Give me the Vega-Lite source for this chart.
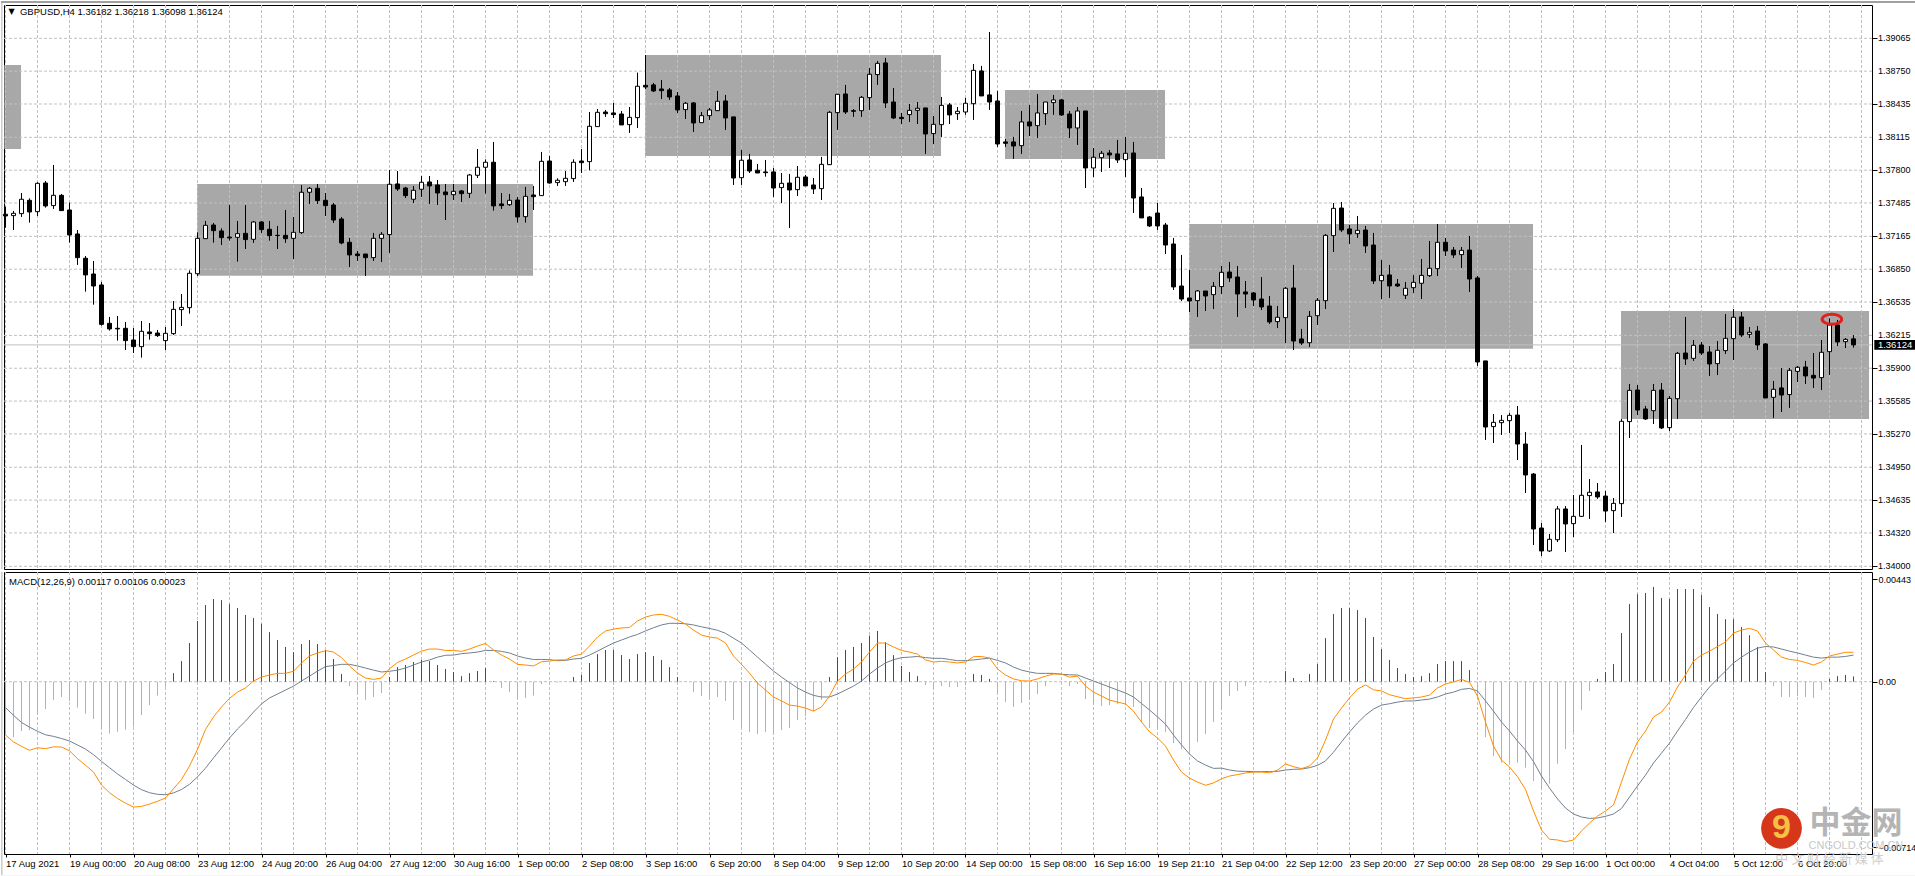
{"$schema":"https://vega.github.io/schema/vega-lite/v6.json","padding":0,"spacing":-2,"background":"white",
"data":{"values":[{"n":1}]},
"config":{"view":{"stroke":"#000","strokeWidth":1},"axis":{"labelFont":"Liberation Sans","labelFontSize":9.5,"labelColor":"#000","tickColor":"#000","domain":false,"grid":false}},
"datasets":{
"zones":[{"a":-0.15,"b":1.94,"top":1.38809,"bot":1.38003},{"a":23.94,"b":65.94,"top":1.37667,"bot":1.36788},{"a":79.94,"b":116.94,"top":1.38905,"bot":1.37936},{"a":124.94,"b":144.94,"top":1.38569,"bot":1.37907},{"a":147.94,"b":190.94,"top":1.37284,"bot":1.36087},{"a":201.94,"b":232.94,"top":1.36449,"bot":1.35413}],
"prices":[{"p":1.39065,"t":"1.39065"},{"p":1.3875,"t":"1.38750"},{"p":1.38435,"t":"1.38435"},{"p":1.38115,"t":"1.38115"},{"p":1.378,"t":"1.37800"},{"p":1.37485,"t":"1.37485"},{"p":1.37165,"t":"1.37165"},{"p":1.3685,"t":"1.36850"},{"p":1.36535,"t":"1.36535"},{"p":1.36215,"t":"1.36215"},{"p":1.359,"t":"1.35900"},{"p":1.35585,"t":"1.35585"},{"p":1.3527,"t":"1.35270"},{"p":1.3495,"t":"1.34950"},{"p":1.34635,"t":"1.34635"},{"p":1.3432,"t":"1.34320"},{"p":1.34,"t":"1.34000"}],
"bars":[
{"i":0,"o":1.37377,"h":1.3745,"l":1.37249,"c":1.37361,"d":-0.00232,"m":-0.0023,"s":-0.00112},
{"i":1,"o":1.37364,"h":1.37409,"l":1.37226,"c":1.37386,"d":-0.00239,"m":-0.0026,"s":-0.00145},
{"i":2,"o":1.37383,"h":1.37581,"l":1.37351,"c":1.37521,"d":-0.00213,"m":-0.00279,"s":-0.00176},
{"i":3,"o":1.37511,"h":1.3753,"l":1.37297,"c":1.37399,"d":-0.00209,"m":-0.00296,"s":-0.00196},
{"i":4,"o":1.37402,"h":1.37684,"l":1.37361,"c":1.37674,"d":-0.00141,"m":-0.00285,"s":-0.00214},
{"i":5,"o":1.37677,"h":1.37696,"l":1.37441,"c":1.37457,"d":-0.00118,"m":-0.00289,"s":-0.00229},
{"i":6,"o":1.3746,"h":1.3785,"l":1.37428,"c":1.37559,"d":-0.00079,"m":-0.00281,"s":-0.00236},
{"i":7,"o":1.37559,"h":1.37572,"l":1.37409,"c":1.37412,"d":-0.00066,"m":-0.00282,"s":-0.00245},
{"i":8,"o":1.37418,"h":1.37489,"l":1.37105,"c":1.37178,"d":-0.00083,"m":-0.00298,"s":-0.00256},
{"i":9,"o":1.37188,"h":1.37226,"l":1.36891,"c":1.36961,"d":-0.00112,"m":-0.00332,"s":-0.00273},
{"i":10,"o":1.36955,"h":1.36977,"l":1.36635,"c":1.36795,"d":-0.00138,"m":-0.0036,"s":-0.00291},
{"i":11,"o":1.36804,"h":1.36929,"l":1.3651,"c":1.36689,"d":-0.00161,"m":-0.0039,"s":-0.00315},
{"i":12,"o":1.36699,"h":1.36728,"l":1.36309,"c":1.36321,"d":-0.00204,"m":-0.00446,"s":-0.00344},
{"i":13,"o":1.36331,"h":1.36392,"l":1.36261,"c":1.36277,"d":-0.00224,"m":-0.00479,"s":-0.00371},
{"i":14,"o":1.36283,"h":1.36401,"l":1.36165,"c":1.36277,"d":-0.00216,"m":-0.00504,"s":-0.00398},
{"i":15,"o":1.36283,"h":1.36344,"l":1.36075,"c":1.36165,"d":-0.00207,"m":-0.00524,"s":-0.00422},
{"i":16,"o":1.36171,"h":1.36286,"l":1.36046,"c":1.36107,"d":-0.00194,"m":-0.00541,"s":-0.00446},
{"i":17,"o":1.36107,"h":1.36353,"l":1.36002,"c":1.36254,"d":-0.00144,"m":-0.00538,"s":-0.00466},
{"i":18,"o":1.36248,"h":1.36334,"l":1.36174,"c":1.36232,"d":-0.00101,"m":-0.00528,"s":-0.00479},
{"i":19,"o":1.36238,"h":1.36267,"l":1.362,"c":1.36213,"d":-0.0006,"m":-0.00516,"s":-0.00486},
{"i":20,"o":1.36165,"h":1.36296,"l":1.36075,"c":1.36235,"d":-0.00022,"m":-0.00502,"s":-0.00488},
{"i":21,"o":1.36232,"h":1.36545,"l":1.36219,"c":1.36465,"d":0.00037,"m":-0.00462,"s":-0.0048},
{"i":22,"o":1.36462,"h":1.36612,"l":1.36305,"c":1.36484,"d":0.00089,"m":-0.00422,"s":-0.00465},
{"i":23,"o":1.36481,"h":1.36839,"l":1.36424,"c":1.36811,"d":0.00167,"m":-0.00364,"s":-0.00443},
{"i":24,"o":1.36807,"h":1.37204,"l":1.36785,"c":1.37146,"d":0.00262,"m":-0.00292,"s":-0.00411},
{"i":25,"o":1.37143,"h":1.37313,"l":1.37143,"c":1.37271,"d":0.00331,"m":-0.00206,"s":-0.00373},
{"i":26,"o":1.37274,"h":1.37294,"l":1.37105,"c":1.3722,"d":0.00357,"m":-0.00152,"s":-0.00329},
{"i":27,"o":1.37217,"h":1.37242,"l":1.37082,"c":1.37153,"d":0.00352,"m":-0.00109,"s":-0.00286},
{"i":28,"o":1.37159,"h":1.37466,"l":1.37124,"c":1.3715,"d":0.00335,"m":-0.00072,"s":-0.00243},
{"i":29,"o":1.37156,"h":1.37313,"l":1.36923,"c":1.37191,"d":0.00318,"m":-0.00045,"s":-0.00204},
{"i":30,"o":1.37194,"h":1.37466,"l":1.37044,"c":1.37134,"d":0.00288,"m":-0.00027,"s":-0.0017},
{"i":31,"o":1.37137,"h":1.37313,"l":1.37102,"c":1.37303,"d":0.00275,"m":0.00003,"s":-0.00131},
{"i":32,"o":1.37303,"h":1.37313,"l":1.37198,"c":1.3723,"d":0.0025,"m":0.0002,"s":-0.00096},
{"i":33,"o":1.37233,"h":1.37313,"l":1.37124,"c":1.37172,"d":0.00214,"m":0.00029,"s":-0.0007},
{"i":34,"o":1.37175,"h":1.37265,"l":1.37044,"c":1.37172,"d":0.0018,"m":0.00036,"s":-0.00053},
{"i":35,"o":1.37175,"h":1.37418,"l":1.37102,"c":1.37143,"d":0.0015,"m":0.00036,"s":-0.00036},
{"i":36,"o":1.37146,"h":1.37351,"l":1.36948,"c":1.37204,"d":0.00128,"m":0.00045,"s":-0.00019},
{"i":37,"o":1.37201,"h":1.37658,"l":1.37188,"c":1.37588,"d":0.00163,"m":0.00081,"s":0.00003},
{"i":38,"o":1.37588,"h":1.37639,"l":1.37476,"c":1.37626,"d":0.0018,"m":0.00111,"s":0.00024},
{"i":39,"o":1.37626,"h":1.37668,"l":1.37476,"c":1.37508,"d":0.00163,"m":0.00124,"s":0.00046},
{"i":40,"o":1.37511,"h":1.37581,"l":1.37361,"c":1.3746,"d":0.00137,"m":0.00134,"s":0.00065},
{"i":41,"o":1.37466,"h":1.37485,"l":1.37294,"c":1.37322,"d":0.00098,"m":0.00128,"s":0.0007},
{"i":42,"o":1.37332,"h":1.37351,"l":1.37089,"c":1.37102,"d":0.00033,"m":0.00104,"s":0.00075},
{"i":43,"o":1.37108,"h":1.3715,"l":1.36871,"c":1.36987,"d":-0.00019,"m":0.00068,"s":0.00075},
{"i":44,"o":1.36996,"h":1.37025,"l":1.36929,"c":1.3698,"d":-0.00053,"m":0.00037,"s":0.00068},
{"i":45,"o":1.36996,"h":1.36996,"l":1.36785,"c":1.36961,"d":-0.00078,"m":0.00016,"s":0.00059},
{"i":46,"o":1.36961,"h":1.37198,"l":1.36929,"c":1.37146,"d":-0.00066,"m":0.0001,"s":0.0005},
{"i":47,"o":1.37146,"h":1.37207,"l":1.36919,"c":1.37185,"d":-0.00049,"m":0.00016,"s":0.00042},
{"i":48,"o":1.37182,"h":1.37802,"l":1.37006,"c":1.37665,"d":0.0002,"m":0.00056,"s":0.00045},
{"i":49,"o":1.37668,"h":1.37792,"l":1.37601,"c":1.3762,"d":0.00063,"m":0.00083,"s":0.0005},
{"i":50,"o":1.37629,"h":1.37639,"l":1.37533,"c":1.37556,"d":0.00072,"m":0.00098,"s":0.00059},
{"i":51,"o":1.37521,"h":1.37649,"l":1.37485,"c":1.37607,"d":0.00085,"m":0.00115,"s":0.00072},
{"i":52,"o":1.37617,"h":1.37744,"l":1.37543,"c":1.37684,"d":0.00094,"m":0.00132,"s":0.00085},
{"i":53,"o":1.37687,"h":1.37744,"l":1.37476,"c":1.37649,"d":0.00089,"m":0.00141,"s":0.00094},
{"i":54,"o":1.37658,"h":1.37706,"l":1.37466,"c":1.37581,"d":0.00072,"m":0.00141,"s":0.00106},
{"i":55,"o":1.37591,"h":1.37668,"l":1.37322,"c":1.37565,"d":0.00055,"m":0.00135,"s":0.00114},
{"i":56,"o":1.37565,"h":1.37668,"l":1.37514,"c":1.37597,"d":0.00042,"m":0.00135,"s":0.00115},
{"i":57,"o":1.37601,"h":1.3761,"l":1.37495,"c":1.37575,"d":0.00024,"m":0.00131,"s":0.00121},
{"i":58,"o":1.37578,"h":1.37764,"l":1.37533,"c":1.37754,"d":0.00037,"m":0.00141,"s":0.00124},
{"i":59,"o":1.37751,"h":1.38003,"l":1.37725,"c":1.37828,"d":0.00046,"m":0.00154,"s":0.00128},
{"i":60,"o":1.37828,"h":1.37904,"l":1.37575,"c":1.37876,"d":0.00059,"m":0.00165,"s":0.00135},
{"i":61,"o":1.37876,"h":1.38071,"l":1.37412,"c":1.37457,"d":0.00003,"m":0.00137,"s":0.00135},
{"i":62,"o":1.37476,"h":1.37581,"l":1.37428,"c":1.3746,"d":-0.00027,"m":0.00115,"s":0.00131},
{"i":63,"o":1.37469,"h":1.37572,"l":1.37457,"c":1.37511,"d":-0.00045,"m":0.00098,"s":0.00124},
{"i":64,"o":1.37514,"h":1.37543,"l":1.37297,"c":1.37351,"d":-0.00075,"m":0.00075,"s":0.00111},
{"i":65,"o":1.37354,"h":1.37639,"l":1.37297,"c":1.37549,"d":-0.0007,"m":0.00072,"s":0.00102},
{"i":66,"o":1.37562,"h":1.37649,"l":1.37418,"c":1.37546,"d":-0.0006,"m":0.00068,"s":0.00096},
{"i":67,"o":1.37556,"h":1.37975,"l":1.37553,"c":1.37885,"d":-0.0001,"m":0.00086,"s":0.00096},
{"i":68,"o":1.37888,"h":1.37936,"l":1.37671,"c":1.37677,"d":-0.00003,"m":0.00089,"s":0.00095},
{"i":69,"o":1.37681,"h":1.37722,"l":1.37649,"c":1.37703,"d":-0.00004,"m":0.00094,"s":0.00091},
{"i":70,"o":1.3769,"h":1.37792,"l":1.37649,"c":1.37722,"d":0,"m":0.00094,"s":0.00092},
{"i":71,"o":1.37719,"h":1.37904,"l":1.37687,"c":1.37876,"d":0.0002,"m":0.00111,"s":0.00098},
{"i":72,"o":1.37888,"h":1.38003,"l":1.37773,"c":1.37872,"d":0.00029,"m":0.00119,"s":0.00101},
{"i":73,"o":1.37882,"h":1.38358,"l":1.37799,"c":1.38221,"d":0.00081,"m":0.00154,"s":0.00115},
{"i":74,"o":1.38218,"h":1.38387,"l":1.38218,"c":1.38355,"d":0.00119,"m":0.00193,"s":0.00132},
{"i":75,"o":1.38358,"h":1.38378,"l":1.38311,"c":1.38342,"d":0.00137,"m":0.00219,"s":0.0015},
{"i":76,"o":1.38349,"h":1.38445,"l":1.38301,"c":1.38333,"d":0.00137,"m":0.00227,"s":0.00167},
{"i":77,"o":1.38339,"h":1.38368,"l":1.38234,"c":1.38234,"d":0.00115,"m":0.00232,"s":0.0018},
{"i":78,"o":1.38237,"h":1.38406,"l":1.38157,"c":1.38307,"d":0.00098,"m":0.00234,"s":0.00193},
{"i":79,"o":1.38304,"h":1.38736,"l":1.38205,"c":1.38605,"d":0.00119,"m":0.00262,"s":0.00204},
{"i":80,"o":1.38614,"h":1.38905,"l":1.38579,"c":1.38598,"d":0.00128,"m":0.00279,"s":0.00219},
{"i":81,"o":1.38618,"h":1.38637,"l":1.3855,"c":1.3856,"d":0.00111,"m":0.00288,"s":0.00233},
{"i":82,"o":1.38579,"h":1.38665,"l":1.38483,"c":1.38563,"d":0.00094,"m":0.00291,"s":0.00245},
{"i":83,"o":1.3857,"h":1.38589,"l":1.38474,"c":1.38502,"d":0.00063,"m":0.00282,"s":0.00252},
{"i":84,"o":1.38512,"h":1.3855,"l":1.38349,"c":1.38378,"d":0.0002,"m":0.00266,"s":0.00252},
{"i":85,"o":1.38381,"h":1.38454,"l":1.38291,"c":1.38442,"d":0,"m":0.00249,"s":0.0025},
{"i":86,"o":1.38445,"h":1.38454,"l":1.38167,"c":1.38253,"d":-0.00045,"m":0.00223,"s":0.00245},
{"i":87,"o":1.38256,"h":1.38358,"l":1.38256,"c":1.38323,"d":-0.00062,"m":0.00201,"s":0.00237},
{"i":88,"o":1.38323,"h":1.38397,"l":1.38282,"c":1.38378,"d":-0.0007,"m":0.00193,"s":0.0023},
{"i":89,"o":1.38371,"h":1.3856,"l":1.38371,"c":1.38461,"d":-0.00066,"m":0.00188,"s":0.00222},
{"i":90,"o":1.38464,"h":1.38522,"l":1.38186,"c":1.38301,"d":-0.00083,"m":0.00167,"s":0.00209},
{"i":91,"o":1.38311,"h":1.38311,"l":1.37658,"c":1.37725,"d":-0.00165,"m":0.00111,"s":0.00188},
{"i":92,"o":1.37728,"h":1.37994,"l":1.37658,"c":1.37895,"d":-0.00199,"m":0.00075,"s":0.00167},
{"i":93,"o":1.37898,"h":1.37956,"l":1.37773,"c":1.37792,"d":-0.00217,"m":0.00037,"s":0.00137},
{"i":94,"o":1.37799,"h":1.3786,"l":1.37773,"c":1.37773,"d":-0.00226,"m":-0.00006,"s":0.00106},
{"i":95,"o":1.37783,"h":1.37898,"l":1.37738,"c":1.37776,"d":-0.00217,"m":-0.00036,"s":0.00076},
{"i":96,"o":1.37783,"h":1.37821,"l":1.37543,"c":1.37629,"d":-0.00224,"m":-0.00066,"s":0.00046},
{"i":97,"o":1.37633,"h":1.37773,"l":1.37485,"c":1.37674,"d":-0.00209,"m":-0.00083,"s":0.0002},
{"i":98,"o":1.37677,"h":1.37764,"l":1.37246,"c":1.3761,"d":-0.002,"m":-0.00101,"s":-0.00004},
{"i":99,"o":1.37613,"h":1.3784,"l":1.37553,"c":1.37732,"d":-0.00165,"m":-0.00105,"s":-0.00027},
{"i":100,"o":1.37735,"h":1.37754,"l":1.37649,"c":1.37649,"d":-0.00148,"m":-0.00114,"s":-0.00045},
{"i":101,"o":1.37658,"h":1.37725,"l":1.37572,"c":1.3762,"d":-0.00127,"m":-0.00127,"s":-0.00059},
{"i":102,"o":1.37623,"h":1.37927,"l":1.37514,"c":1.37856,"d":-0.00079,"m":-0.00109,"s":-0.00066},
{"i":103,"o":1.37853,"h":1.38368,"l":1.37853,"c":1.38355,"d":0.0002,"m":-0.00062,"s":-0.00066},
{"i":104,"o":1.38352,"h":1.38528,"l":1.38186,"c":1.38528,"d":0.00106,"m":0.00003,"s":-0.00053},
{"i":105,"o":1.38531,"h":1.38618,"l":1.38339,"c":1.38358,"d":0.00137,"m":0.00033,"s":-0.00036},
{"i":106,"o":1.38371,"h":1.38387,"l":1.38311,"c":1.38365,"d":0.0015,"m":0.00055,"s":-0.00019},
{"i":107,"o":1.38371,"h":1.38512,"l":1.38311,"c":1.38499,"d":0.00167,"m":0.00085,"s":0.00003},
{"i":108,"o":1.38496,"h":1.38781,"l":1.38378,"c":1.3872,"d":0.00199,"m":0.00128,"s":0.00033},
{"i":109,"o":1.38717,"h":1.38848,"l":1.38618,"c":1.38825,"d":0.00219,"m":0.00167,"s":0.00059},
{"i":110,"o":1.38829,"h":1.38877,"l":1.38397,"c":1.38445,"d":0.00171,"m":0.00167,"s":0.00081},
{"i":111,"o":1.38454,"h":1.38589,"l":1.38291,"c":1.38301,"d":0.00115,"m":0.0015,"s":0.00095},
{"i":112,"o":1.38307,"h":1.38349,"l":1.38243,"c":1.38295,"d":0.00068,"m":0.00135,"s":0.00104},
{"i":113,"o":1.38333,"h":1.38435,"l":1.38263,"c":1.38374,"d":0.00042,"m":0.00128,"s":0.00106},
{"i":114,"o":1.38374,"h":1.38454,"l":1.38243,"c":1.38394,"d":0.00024,"m":0.00119,"s":0.00109},
{"i":115,"o":1.38397,"h":1.38397,"l":1.37956,"c":1.38147,"d":-0.00014,"m":0.00094,"s":0.00104},
{"i":116,"o":1.38151,"h":1.3832,"l":1.38051,"c":1.3824,"d":-0.00032,"m":0.00085,"s":0.00101},
{"i":117,"o":1.38237,"h":1.38502,"l":1.38119,"c":1.38422,"d":-0.00019,"m":0.00088,"s":0.00101},
{"i":118,"o":1.38426,"h":1.38445,"l":1.38243,"c":1.3833,"d":-0.00023,"m":0.00085,"s":0.00096},
{"i":119,"o":1.38342,"h":1.38406,"l":1.38282,"c":1.38365,"d":-0.00023,"m":0.00081,"s":0.00091},
{"i":120,"o":1.38358,"h":1.38493,"l":1.3833,"c":1.38442,"d":-0.00016,"m":0.00085,"s":0.00091},
{"i":121,"o":1.38438,"h":1.38819,"l":1.38282,"c":1.38758,"d":0.00033,"m":0.00108,"s":0.00094},
{"i":122,"o":1.38752,"h":1.388,"l":1.38512,"c":1.38512,"d":0.00029,"m":0.00109,"s":0.00098},
{"i":123,"o":1.38522,"h":1.39126,"l":1.38378,"c":1.38454,"d":0.00012,"m":0.00102,"s":0.00102},
{"i":124,"o":1.38464,"h":1.3856,"l":1.38023,"c":1.38051,"d":-0.00049,"m":0.00055,"s":0.00092},
{"i":125,"o":1.38071,"h":1.38099,"l":1.38023,"c":1.38058,"d":-0.00088,"m":0.00029,"s":0.00081},
{"i":126,"o":1.38071,"h":1.38119,"l":1.37908,"c":1.38032,"d":-0.00109,"m":0.00012,"s":0.00063},
{"i":127,"o":1.38035,"h":1.38368,"l":1.37956,"c":1.38263,"d":-0.00092,"m":0.00004,"s":0.0005},
{"i":128,"o":1.38263,"h":1.38426,"l":1.38128,"c":1.38224,"d":-0.00079,"m":0.00003,"s":0.00042},
{"i":129,"o":1.38227,"h":1.38531,"l":1.38109,"c":1.38349,"d":-0.00053,"m":0.00012,"s":0.00036},
{"i":130,"o":1.38342,"h":1.38454,"l":1.38234,"c":1.38454,"d":-0.00019,"m":0.00024,"s":0.00036},
{"i":131,"o":1.38448,"h":1.38522,"l":1.3833,"c":1.38474,"d":0,"m":0.00033,"s":0.00036},
{"i":132,"o":1.38474,"h":1.38483,"l":1.3832,"c":1.3833,"d":0,"m":0.00033,"s":0.00032},
{"i":133,"o":1.38339,"h":1.38368,"l":1.38109,"c":1.38205,"d":-0.00019,"m":0.0002,"s":0.0003},
{"i":134,"o":1.38205,"h":1.38406,"l":1.38042,"c":1.38368,"d":-0.0001,"m":0.00024,"s":0.00029},
{"i":135,"o":1.38368,"h":1.38368,"l":1.37629,"c":1.37821,"d":-0.00075,"m":-0.00019,"s":0.00016},
{"i":136,"o":1.37821,"h":1.38013,"l":1.37735,"c":1.37924,"d":-0.00101,"m":-0.00045,"s":0.00003},
{"i":137,"o":1.3792,"h":1.37984,"l":1.37783,"c":1.37962,"d":-0.00105,"m":-0.00062,"s":-0.0001},
{"i":138,"o":1.37965,"h":1.37994,"l":1.37821,"c":1.37946,"d":-0.00101,"m":-0.00079,"s":-0.00023},
{"i":139,"o":1.37956,"h":1.3809,"l":1.37869,"c":1.37898,"d":-0.00096,"m":-0.00088,"s":-0.00036},
{"i":140,"o":1.37901,"h":1.38119,"l":1.37735,"c":1.37962,"d":-0.00101,"m":-0.00096,"s":-0.00049},
{"i":141,"o":1.37965,"h":1.38071,"l":1.37389,"c":1.37533,"d":-0.00109,"m":-0.00127,"s":-0.00066},
{"i":142,"o":1.37543,"h":1.37629,"l":1.37342,"c":1.37342,"d":-0.00174,"m":-0.00174,"s":-0.00094},
{"i":143,"o":1.37351,"h":1.37361,"l":1.37255,"c":1.37265,"d":-0.002,"m":-0.00216,"s":-0.00122},
{"i":144,"o":1.37389,"h":1.37485,"l":1.37226,"c":1.37265,"d":-0.00204,"m":-0.00243,"s":-0.00152},
{"i":145,"o":1.37274,"h":1.37294,"l":1.36996,"c":1.37082,"d":-0.00217,"m":-0.00278,"s":-0.00183},
{"i":146,"o":1.37092,"h":1.3715,"l":1.36651,"c":1.3668,"d":-0.00265,"m":-0.00338,"s":-0.0023},
{"i":147,"o":1.36689,"h":1.36987,"l":1.36545,"c":1.36564,"d":-0.00291,"m":-0.0039,"s":-0.00273},
{"i":148,"o":1.36574,"h":1.36843,"l":1.3644,"c":1.36545,"d":-0.00304,"m":-0.00416,"s":-0.00312},
{"i":149,"o":1.36548,"h":1.36651,"l":1.36392,"c":1.36641,"d":-0.0026,"m":-0.00433,"s":-0.00342},
{"i":150,"o":1.36641,"h":1.36641,"l":1.36449,"c":1.36593,"d":-0.00226,"m":-0.00447,"s":-0.0036},
{"i":151,"o":1.36606,"h":1.36728,"l":1.36468,"c":1.36686,"d":-0.00174,"m":-0.00437,"s":-0.00374},
{"i":152,"o":1.36683,"h":1.36881,"l":1.36612,"c":1.3682,"d":-0.00122,"m":-0.00419,"s":-0.00373},
{"i":153,"o":1.36823,"h":1.36919,"l":1.36728,"c":1.36766,"d":-0.00062,"m":-0.00407,"s":-0.00381},
{"i":154,"o":1.36775,"h":1.36881,"l":1.36392,"c":1.36612,"d":-0.0004,"m":-0.00401,"s":-0.00386},
{"i":155,"o":1.36632,"h":1.36737,"l":1.36478,"c":1.36612,"d":-0.00019,"m":-0.00394,"s":-0.00387},
{"i":156,"o":1.36622,"h":1.36632,"l":1.36497,"c":1.36555,"d":0,"m":-0.0039,"s":-0.00388},
{"i":157,"o":1.36564,"h":1.36775,"l":1.36459,"c":1.36488,"d":0,"m":-0.0039,"s":-0.00388},
{"i":158,"o":1.36497,"h":1.36593,"l":1.36325,"c":1.36344,"d":-0.00006,"m":-0.00393,"s":-0.00388},
{"i":159,"o":1.36347,"h":1.36497,"l":1.36286,"c":1.36389,"d":0,"m":-0.00382,"s":-0.00387},
{"i":160,"o":1.36385,"h":1.3668,"l":1.36142,"c":1.36667,"d":0.00046,"m":-0.00355,"s":-0.00381},
{"i":161,"o":1.3667,"h":1.36891,"l":1.36075,"c":1.36161,"d":0.00016,"m":-0.00367,"s":-0.00378},
{"i":162,"o":1.36181,"h":1.36277,"l":1.36123,"c":1.36142,"d":0.00003,"m":-0.00375,"s":-0.00377},
{"i":163,"o":1.36145,"h":1.36449,"l":1.36104,"c":1.36398,"d":0.00033,"m":-0.00364,"s":-0.00371},
{"i":164,"o":1.36404,"h":1.36574,"l":1.36315,"c":1.36552,"d":0.00076,"m":-0.00329,"s":-0.00361},
{"i":165,"o":1.36548,"h":1.37188,"l":1.36468,"c":1.37175,"d":0.00188,"m":-0.00252,"s":-0.00342},
{"i":166,"o":1.37172,"h":1.37485,"l":1.37015,"c":1.37434,"d":0.00292,"m":-0.00161,"s":-0.00304},
{"i":167,"o":1.37437,"h":1.37495,"l":1.37207,"c":1.37226,"d":0.00318,"m":-0.00114,"s":-0.0026},
{"i":168,"o":1.37236,"h":1.37274,"l":1.37092,"c":1.37188,"d":0.00318,"m":-0.0007,"s":-0.00217},
{"i":169,"o":1.37191,"h":1.37361,"l":1.3715,"c":1.37223,"d":0.00309,"m":-0.00032,"s":-0.00178},
{"i":170,"o":1.37226,"h":1.37265,"l":1.37006,"c":1.37073,"d":0.00275,"m":-0.00014,"s":-0.00144},
{"i":171,"o":1.37082,"h":1.37198,"l":1.36708,"c":1.36737,"d":0.00193,"m":-0.00035,"s":-0.00118},
{"i":172,"o":1.3674,"h":1.36939,"l":1.36564,"c":1.36791,"d":0.00141,"m":-0.0004,"s":-0.00101},
{"i":173,"o":1.36795,"h":1.36891,"l":1.36574,"c":1.36689,"d":0.00094,"m":-0.00056,"s":-0.00095},
{"i":174,"o":1.36708,"h":1.36756,"l":1.3668,"c":1.36689,"d":0.00059,"m":-0.00065,"s":-0.00088},
{"i":175,"o":1.366,"h":1.36728,"l":1.36564,"c":1.36667,"d":0.00033,"m":-0.00073,"s":-0.00083},
{"i":176,"o":1.36673,"h":1.36795,"l":1.36622,"c":1.36724,"d":0.0002,"m":-0.0007,"s":-0.00083},
{"i":177,"o":1.36715,"h":1.36948,"l":1.36564,"c":1.36791,"d":0.00024,"m":-0.00066,"s":-0.00079},
{"i":178,"o":1.36788,"h":1.37121,"l":1.36775,"c":1.36859,"d":0.00037,"m":-0.00058,"s":-0.00075},
{"i":179,"o":1.36855,"h":1.37284,"l":1.36785,"c":1.37108,"d":0.00076,"m":-0.00027,"s":-0.00066},
{"i":180,"o":1.37108,"h":1.3715,"l":1.36977,"c":1.37025,"d":0.00089,"m":-0.0001,"s":-0.00053},
{"i":181,"o":1.37034,"h":1.37063,"l":1.36958,"c":1.36987,"d":0.00089,"m":-0.00001,"s":-0.00045},
{"i":182,"o":1.3699,"h":1.37063,"l":1.36862,"c":1.37031,"d":0.00089,"m":0.0001,"s":-0.00033},
{"i":183,"o":1.37034,"h":1.37169,"l":1.36632,"c":1.36756,"d":0.0005,"m":-0.00003,"s":-0.00029},
{"i":184,"o":1.36766,"h":1.36785,"l":1.35922,"c":1.3596,"d":-0.00062,"m":-0.00062,"s":-0.0004},
{"i":185,"o":1.3597,"h":1.3597,"l":1.35212,"c":1.35336,"d":-0.00239,"m":-0.00174,"s":-0.00083},
{"i":186,"o":1.3534,"h":1.35461,"l":1.35183,"c":1.35381,"d":-0.00321,"m":-0.00278,"s":-0.00127},
{"i":187,"o":1.35378,"h":1.35451,"l":1.3526,"c":1.354,"d":-0.0035,"m":-0.00338,"s":-0.00174},
{"i":188,"o":1.35397,"h":1.35471,"l":1.35279,"c":1.35448,"d":-0.0035,"m":-0.00368,"s":-0.00213},
{"i":189,"o":1.35451,"h":1.35538,"l":1.3502,"c":1.35173,"d":-0.0035,"m":-0.0041,"s":-0.00256},
{"i":190,"o":1.35173,"h":1.35288,"l":1.34703,"c":1.34876,"d":-0.00371,"m":-0.00465,"s":-0.00295},
{"i":191,"o":1.34885,"h":1.34895,"l":1.34204,"c":1.34358,"d":-0.00429,"m":-0.00558,"s":-0.00345},
{"i":192,"o":1.34367,"h":1.34415,"l":1.34099,"c":1.34147,"d":-0.00462,"m":-0.0064,"s":-0.00407},
{"i":193,"o":1.34147,"h":1.3431,"l":1.34137,"c":1.34259,"d":-0.0044,"m":-0.0068,"s":-0.00459},
{"i":194,"o":1.34255,"h":1.34578,"l":1.34233,"c":1.3455,"d":-0.00354,"m":-0.00683,"s":-0.00506},
{"i":195,"o":1.3455,"h":1.34578,"l":1.34137,"c":1.34406,"d":-0.00291,"m":-0.00691,"s":-0.00545},
{"i":196,"o":1.34409,"h":1.34684,"l":1.34281,"c":1.34479,"d":-0.00217,"m":-0.00683,"s":-0.00571},
{"i":197,"o":1.34479,"h":1.35164,"l":1.34473,"c":1.34681,"d":-0.00122,"m":-0.00644,"s":-0.00584},
{"i":198,"o":1.34678,"h":1.34837,"l":1.34454,"c":1.3471,"d":-0.0004,"m":-0.0061,"s":-0.0059},
{"i":199,"o":1.34713,"h":1.34799,"l":1.34646,"c":1.34665,"d":0.00012,"m":-0.0058,"s":-0.00588},
{"i":200,"o":1.34674,"h":1.34722,"l":1.34425,"c":1.3453,"d":0.00042,"m":-0.00558,"s":-0.00581},
{"i":201,"o":1.34534,"h":1.34655,"l":1.34319,"c":1.34604,"d":0.00076,"m":-0.00532,"s":-0.00571},
{"i":202,"o":1.34601,"h":1.35413,"l":1.34473,"c":1.35391,"d":0.0021,"m":-0.00433,"s":-0.00547},
{"i":203,"o":1.35388,"h":1.35749,"l":1.35231,"c":1.35688,"d":0.00335,"m":-0.00334,"s":-0.00498},
{"i":204,"o":1.35691,"h":1.35739,"l":1.35451,"c":1.35499,"d":0.00378,"m":-0.0026,"s":-0.0045},
{"i":205,"o":1.35509,"h":1.35538,"l":1.35404,"c":1.35413,"d":0.00383,"m":-0.00213,"s":-0.00403},
{"i":206,"o":1.35493,"h":1.35749,"l":1.35365,"c":1.35688,"d":0.00409,"m":-0.00152,"s":-0.00351},
{"i":207,"o":1.35691,"h":1.35758,"l":1.35317,"c":1.35327,"d":0.00361,"m":-0.00131,"s":-0.00308},
{"i":208,"o":1.3533,"h":1.35634,"l":1.35298,"c":1.35611,"d":0.00357,"m":-0.00088,"s":-0.00265},
{"i":209,"o":1.35608,"h":1.36056,"l":1.35413,"c":1.36043,"d":0.004,"m":-0.00023,"s":-0.00213},
{"i":210,"o":1.36046,"h":1.36392,"l":1.35931,"c":1.35989,"d":0.004,"m":0.00029,"s":-0.00163},
{"i":211,"o":1.35995,"h":1.36171,"l":1.3597,"c":1.3612,"d":0.004,"m":0.00089,"s":-0.00111},
{"i":212,"o":1.36123,"h":1.36152,"l":1.36027,"c":1.36046,"d":0.00374,"m":0.00115,"s":-0.00066},
{"i":213,"o":1.36056,"h":1.36113,"l":1.35826,"c":1.35941,"d":0.00322,"m":0.00132,"s":-0.00023},
{"i":214,"o":1.35944,"h":1.36161,"l":1.35835,"c":1.36072,"d":0.00292,"m":0.00152,"s":0.00012},
{"i":215,"o":1.36069,"h":1.3642,"l":1.36037,"c":1.36187,"d":0.0027,"m":0.00171,"s":0.00046},
{"i":216,"o":1.36184,"h":1.36468,"l":1.35979,"c":1.36389,"d":0.0027,"m":0.0021,"s":0.00081},
{"i":217,"o":1.36392,"h":1.3644,"l":1.362,"c":1.36219,"d":0.00236,"m":0.00223,"s":0.00106},
{"i":218,"o":1.36225,"h":1.36296,"l":1.3619,"c":1.36245,"d":0.00201,"m":0.0023,"s":0.00128},
{"i":219,"o":1.36257,"h":1.36305,"l":1.36075,"c":1.36123,"d":0.0015,"m":0.00219,"s":0.00145},
{"i":220,"o":1.36133,"h":1.36142,"l":1.35615,"c":1.35615,"d":0.00042,"m":0.00167,"s":0.00152},
{"i":221,"o":1.35621,"h":1.35778,"l":1.35423,"c":1.35698,"d":-0.00019,"m":0.00137,"s":0.0015},
{"i":222,"o":1.35711,"h":1.35902,"l":1.3548,"c":1.35643,"d":-0.00066,"m":0.00106,"s":0.00141},
{"i":223,"o":1.35647,"h":1.35902,"l":1.35519,"c":1.3588,"d":-0.00066,"m":0.00096,"s":0.00132},
{"i":224,"o":1.3587,"h":1.35922,"l":1.35768,"c":1.35909,"d":-0.00062,"m":0.00092,"s":0.00124},
{"i":225,"o":1.35912,"h":1.3597,"l":1.35749,"c":1.35826,"d":-0.00066,"m":0.00083,"s":0.00115},
{"i":226,"o":1.35832,"h":1.36046,"l":1.35711,"c":1.35806,"d":-0.0007,"m":0.00072,"s":0.00106},
{"i":227,"o":1.3581,"h":1.36171,"l":1.35691,"c":1.36053,"d":-0.00036,"m":0.00085,"s":0.00102},
{"i":228,"o":1.36059,"h":1.36379,"l":1.35835,"c":1.36315,"d":0.00012,"m":0.00111,"s":0.00106},
{"i":229,"o":1.36315,"h":1.36363,"l":1.36113,"c":1.36152,"d":0.00024,"m":0.00119,"s":0.00106},
{"i":230,"o":1.36155,"h":1.3619,"l":1.36094,"c":1.36177,"d":0.00029,"m":0.00127,"s":0.00109},
{"i":231,"o":1.36182,"h":1.36218,"l":1.36098,"c":1.36124,"d":0.00023,"m":0.00127,"s":0.00115}
],
"vgrid":[{"g":0},{"g":4},{"g":8},{"g":12},{"g":16},{"g":20},{"g":24},{"g":28},{"g":32},{"g":36},{"g":40},{"g":44},{"g":48},{"g":52},{"g":56},{"g":60},{"g":64},{"g":68},{"g":72},{"g":76},{"g":80},{"g":84},{"g":88},{"g":92},{"g":96},{"g":100},{"g":104},{"g":108},{"g":112},{"g":116},{"g":120},{"g":124},{"g":128},{"g":132},{"g":136},{"g":140},{"g":144},{"g":148},{"g":152},{"g":156},{"g":160},{"g":164},{"g":168},{"g":172},{"g":176},{"g":180},{"g":184},{"g":188},{"g":192},{"g":196},{"g":200},{"g":204},{"g":208},{"g":212},{"g":216},{"g":220},{"g":224},{"g":228},{"g":232}]
},
"vconcat":[
{"width":1868,"height":564,"layer":[
{"mark":{"type":"rect","fill":"#a0a0a0"},"encoding":{"x":{"datum":-0.55,"type":"quantitative","scale":{"domain":[-0.1875,233.3125],"nice":false,"zero":false,"padding":0},"axis":null},"x2":{"datum":238.75},"y":{"datum":1.394224,"type":"quantitative","scale":{"domain":[1.33974,1.393846],"nice":false,"zero":false},"axis":{"title":null,"orient":"right","values":[1.39065,1.3875,1.38435,1.38115,1.378,1.37485,1.37165,1.3685,1.36535,1.36215,1.359,1.35585,1.3527,1.3495,1.34635,1.3432,1.34],"labels":false,"tickSize":5}},"y2":{"datum":1.39404}}},
{"mark":{"type":"rect","fill":"#c8c8c8"},"encoding":{"x":{"datum":-0.55,"type":"quantitative","axis":null},"x2":{"datum":-0.375},"y":{"datum":1.39404,"type":"quantitative"},"y2":{"datum":1.33974}}},
{"data":{"name":"zones"},"mark":{"type":"rect","fill":"#a8a8a8"},"encoding":{"x":{"field":"a","type":"quantitative","axis":null},"x2":{"field":"b"},"y":{"field":"top","type":"quantitative"},"y2":{"field":"bot"}}},
{"data":{"name":"prices"},"mark":{"type":"rule","stroke":"#c0c0c0","strokeWidth":1,"strokeDash":[3,2]},"encoding":{"y":{"field":"p","type":"quantitative"}}},
{"data":{"name":"prices"},"mark":{"type":"text","align":"left","baseline":"middle","font":"Liberation Sans","fontSize":9,"fill":"#000"},"encoding":{"x":{"datum":234.06,"type":"quantitative","axis":null},"y":{"field":"p","type":"quantitative"},"text":{"field":"t"}}},
{"data":{"name":"vgrid"},"mark":{"type":"rule","stroke":"#c0c0c0","strokeWidth":1,"strokeDash":[3,2]},"encoding":{"x":{"field":"g","type":"quantitative","axis":null}}},
{"mark":{"type":"rule","stroke":"#c0c0c0","strokeWidth":1},"encoding":{"y":{"datum":1.36124,"type":"quantitative"}}},
{"data":{"name":"bars"},"mark":{"type":"rule","stroke":"#000","strokeWidth":1},"encoding":{"x":{"field":"i","type":"quantitative","axis":null},"y":{"field":"l","type":"quantitative"},"y2":{"field":"h"}}},
{"data":{"name":"bars"},"mark":{"type":"bar","width":4,"stroke":"#000","strokeWidth":1},"encoding":{"x":{"field":"i","type":"quantitative","scale":{"padding":0},"axis":null},"y":{"field":"o","type":"quantitative"},"y2":{"field":"c"},"fill":{"condition":{"test":"datum.c>datum.o","value":"#ffffff"},"value":"#000000"}}},
{"mark":{"type":"point","shape":"M-1,0A1,0.51,0,1,1,1,0A1,0.51,0,1,1,-1,0Z","size":380,"filled":false,"stroke":"#e0201c","strokeWidth":3,"opacity":1},"encoding":{"x":{"datum":228.3,"type":"quantitative","axis":null},"y":{"datum":1.3637,"type":"quantitative"}}},
{"mark":{"type":"rect","fill":"#000"},"encoding":{"x":{"datum":233.6,"type":"quantitative","axis":null},"x2":{"datum":238.7},"y":{"datum":1.3617,"type":"quantitative"},"y2":{"datum":1.36078}}},
{"mark":{"type":"text","text":"1.36124","align":"left","baseline":"middle","font":"Liberation Sans","fontSize":9.5,"fill":"#fff"},"encoding":{"x":{"datum":234.05,"type":"quantitative","axis":null},"y":{"datum":1.36124,"type":"quantitative"}}},
{"mark":{"type":"text","text":"▼","align":"center","baseline":"middle","font":"DejaVu Sans","fontSize":8,"fill":"#000"},"encoding":{"x":{"datum":0.775,"type":"quantitative","axis":null},"y":{"datum":1.39315,"type":"quantitative"}}},
{"mark":{"type":"text","text":"GBPUSD,H4  1.36182 1.36218 1.36098 1.36124","align":"left","baseline":"middle","font":"Liberation Sans","fontSize":9.5,"fill":"#000"},"encoding":{"x":{"datum":1.81,"type":"quantitative","axis":null},"y":{"datum":1.39315,"type":"quantitative"}}}
]},
{"width":1868,"height":282,"layer":[
{"mark":{"type":"rect","fill":"#c8c8c8"},"encoding":{"x":{"datum":-0.55,"type":"quantitative","scale":{"domain":[-0.1875,233.3125],"nice":false,"zero":false,"padding":0},"axis":{"title":null,"orient":"bottom","values":[0,8,16,24,32,40,48,56,64,72,80,88,96,104,112,120,128,136,144,152,160,168,176,184,192,200,208,216,224],"labelExpr":"['17 Aug 2021','19 Aug 00:00','20 Aug 08:00','23 Aug 12:00','24 Aug 20:00','26 Aug 04:00','27 Aug 12:00','30 Aug 16:00','1 Sep 00:00','2 Sep 08:00','3 Sep 16:00','6 Sep 20:00','8 Sep 04:00','9 Sep 12:00','10 Sep 20:00','14 Sep 00:00','15 Sep 08:00','16 Sep 16:00','19 Sep 21:10','21 Sep 04:00','22 Sep 12:00','23 Sep 20:00','27 Sep 00:00','28 Sep 08:00','29 Sep 16:00','1 Oct 00:00','4 Oct 04:00','5 Oct 12:00','6 Oct 20:00'][datum.value/8]","labelAlign":"left","labelBaseline":"top","tickSize":3,"labelPadding":1,"labelOverlap":false,"labelFlush":false,"labelBound":false}},"x2":{"datum":-0.375},"y":{"datum":0.004735,"type":"quantitative","scale":{"domain":[-0.007436,0.004735],"nice":false,"zero":false},"axis":{"title":null,"orient":"right","values":[-0.00714,0,0.00443],"labelExpr":"datum.value==0?'0.00':format(datum.value,'.5f')","labelFontSize":9,"tickSize":5,"labelPadding":1,"labelOverlap":false,"labelFlush":false,"labelBound":false}},"y2":{"datum":-0.00835}}},
{"mark":{"type":"rect","fill":"#f0f0f0"},"encoding":{"x":{"datum":-0.55,"type":"quantitative"},"x2":{"datum":238.75},"y":{"datum":-0.00835,"type":"quantitative"},"y2":{"datum":-0.00848}}},
{"data":{"name":"vgrid"},"mark":{"type":"rule","stroke":"#c0c0c0","strokeWidth":1,"strokeDash":[3,2]},"encoding":{"x":{"field":"g","type":"quantitative"}}},
{"mark":{"type":"rule","stroke":"#c0c0c0","strokeWidth":1,"strokeDash":[3,2]},"encoding":{"y":{"datum":0,"type":"quantitative"}}},
{"data":{"name":"bars"},"mark":{"type":"rule","strokeWidth":1},"encoding":{"x":{"field":"i","type":"quantitative"},"y":{"field":"d","type":"quantitative"},"y2":{"datum":0},"color":{"condition":{"test":"datum.d>=0","value":"#ff0000"},"value":"#00ffff"}}},
{"data":{"name":"bars"},"mark":{"type":"line","stroke":"#708090","strokeWidth":1},"encoding":{"x":{"field":"i","type":"quantitative"},"y":{"field":"s","type":"quantitative"}}},
{"data":{"name":"bars"},"mark":{"type":"line","stroke":"#ff8c00","strokeWidth":1},"encoding":{"x":{"field":"i","type":"quantitative"},"y":{"field":"m","type":"quantitative"}}},
{"mark":{"type":"text","text":"MACD(12,26,9) 0.00117 0.00106 0.00023","align":"left","baseline":"middle","font":"Liberation Sans","fontSize":9.5,"fill":"#000"},"encoding":{"x":{"datum":0.44,"type":"quantitative"},"y":{"datum":0.004316,"type":"quantitative"}}},
{"mark":{"type":"point","shape":"circle","size":1660,"filled":true,"fill":"#d6361a","opacity":1,"strokeWidth":0},"encoding":{"x":{"datum":222,"type":"quantitative"},"y":{"datum":-0.00633,"type":"quantitative"}}},
{"mark":{"type":"text","text":"9","align":"center","baseline":"middle","font":"Liberation Sans","fontWeight":"bold","fontSize":34,"fill":"#f7c045"},"encoding":{"x":{"datum":222,"type":"quantitative"},"y":{"datum":-0.00633,"type":"quantitative"}}},
{"mark":{"type":"text","text":"中金网","align":"center","baseline":"middle","font":"Noto Sans CJK SC","fontWeight":"bold","fontSize":31,"fill":"#b4b4b4"},"encoding":{"x":{"datum":231.3,"type":"quantitative"},"y":{"datum":-0.00614,"type":"quantitative"}}},
{"mark":{"type":"text","text":"CNGOLD.COM.CN","align":"center","baseline":"middle","font":"Liberation Sans","fontSize":11,"fill":"#c8c8c8"},"encoding":{"x":{"datum":231.3,"type":"quantitative"},"y":{"datum":-0.00709,"type":"quantitative"}}},
{"mark":{"type":"text","text":"中  文  财  经  新  媒  体","align":"center","baseline":"middle","font":"Noto Sans CJK SC","fontSize":13,"fill":"#cfcfcf"},"encoding":{"x":{"datum":228,"type":"quantitative"},"y":{"datum":-0.00765,"type":"quantitative"}}}
]}
]}
